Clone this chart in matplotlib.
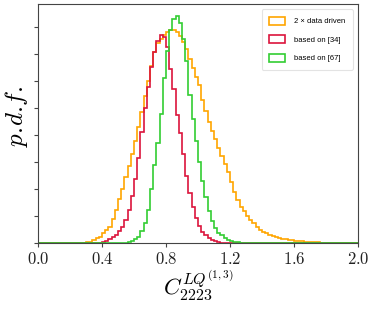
import numpy as np
import matplotlib
matplotlib.use("Agg")
import matplotlib.pyplot as plt

plt.rcParams['mathtext.fontset'] = 'cm'

# histogram bins (width 0.02 from 0 to 2)
bin_lo, bin_hi, n_bins = 0.0, 2.0, 100

# series values (p.d.f. heights), starting at given bin index
orange_start = 15  # bin starting at 0.30
orange_vals = [0.01, 0.025, 0.05, 0.09, 0.12, 0.18, 0.24, 0.30, 0.45, 0.61,
               0.81, 1.01, 1.22, 1.43, 1.65, 1.89, 2.15, 2.42, 2.73, 3.01,
               3.28, 3.54, 3.70, 3.79, 3.85, 3.91, 3.94, 3.95, 3.91, 3.84,
               3.73, 3.60, 3.42, 3.24, 3.07, 2.93, 2.66, 2.45, 2.25, 2.08,
               1.93, 1.77, 1.61, 1.46, 1.32, 1.14, 0.95, 0.80, 0.67, 0.59,
               0.50, 0.43, 0.37, 0.30, 0.25, 0.21, 0.18, 0.15, 0.13, 0.11,
               0.09, 0.08, 0.07, 0.06, 0.05, 0.04, 0.035, 0.03, 0.025, 0.02,
               0.018, 0.015, 0.012, 0.009, 0.006, 0.004, 0.003, 0.002, 0.001, 0.001]

red_start = 19  # bin starting at 0.38
red_vals = [0.005, 0.02, 0.04, 0.07, 0.11, 0.15, 0.22, 0.29, 0.43, 0.62,
            0.87, 1.18, 1.57, 2.06, 2.51, 2.89, 3.26, 3.54, 3.74, 3.86,
            3.82, 3.63, 3.22, 2.85, 2.38, 2.04, 1.65, 1.25, 0.92, 0.67,
            0.47, 0.31, 0.21, 0.14, 0.09, 0.05, 0.03, 0.015, 0.005]

green_start = 27  # bin starting at 0.54
green_vals = [0.005, 0.015, 0.04, 0.07, 0.12, 0.22, 0.37, 0.62, 1.00, 1.45,
              1.85, 2.40, 3.05, 3.55, 3.95, 4.15, 4.21, 4.08, 3.78, 3.38,
              2.75, 2.30, 1.90, 1.50, 1.15, 0.85, 0.60, 0.40, 0.28, 0.19,
              0.14, 0.10, 0.06, 0.04, 0.02, 0.01]

labels = ["2 × data driven", "based on [34]", "based on [67]"]
colors = ["#FFA500", "#DC143C", "#32CD32"]

xticks = [0.0, 0.4, 0.8, 1.2, 1.6, 2.0]
xtick_labels = ["0.0", "0.4", "0.8", "1.2", "1.6", "2.0"]
yticks = [0.0, 0.5, 1.0, 1.5, 2.0, 2.5, 3.0, 3.5, 4.0]

edges = np.linspace(bin_lo, bin_hi, n_bins + 1)

def full(start, vals):
    arr = np.zeros(n_bins)
    arr[start:start + len(vals)] = vals
    return arr

series = [full(orange_start, orange_vals), full(red_start, red_vals),
          full(green_start, green_vals)]

fig = plt.figure(figsize=(3.74, 3.11), dpi=100)
ax = fig.add_axes([0.1016, 0.2186, 0.8556, 0.7685])

for vals, c, lab in zip(series, colors, labels):
    ax.hist(edges[:-1], bins=edges, weights=vals, histtype='step',
            color=c, linewidth=1.2, label=lab)

ax.set_xlim(0, 2.0)
ax.set_ylim(0, 4.43)
ax.set_xticks(xticks)
ax.set_xticklabels(["$" + t + "$" for t in xtick_labels], fontsize=12)
ax.set_yticks(yticks)
ax.set_yticklabels([])
ax.tick_params(direction='out', length=3, width=0.8, pad=2,
               colors='#444444', labelcolor='#222222')
for s in ax.spines.values():
    s.set_color('#444444')
    s.set_linewidth(0.8)

ax.set_ylabel(r"$p.\!d.\!f.$", fontsize=18)
ax.yaxis.set_label_coords(-0.025, 0.53)
ax.set_xlabel("$C_{2223}^{LQ^{(1,3)}}$", fontsize=16.5, labelpad=0)

leg = ax.legend(loc='upper right', prop={'family': 'Liberation Sans', 'size': 5.5},
                labelspacing=1.3, handlelength=2.0, handleheight=1.2,
                borderpad=1.0, handletextpad=1.2, fancybox=True,
                borderaxespad=0.7)
leg.get_frame().set_edgecolor('#dddddd')
leg.get_frame().set_linewidth(0.8)

fig.savefig("out.png", dpi=100)
